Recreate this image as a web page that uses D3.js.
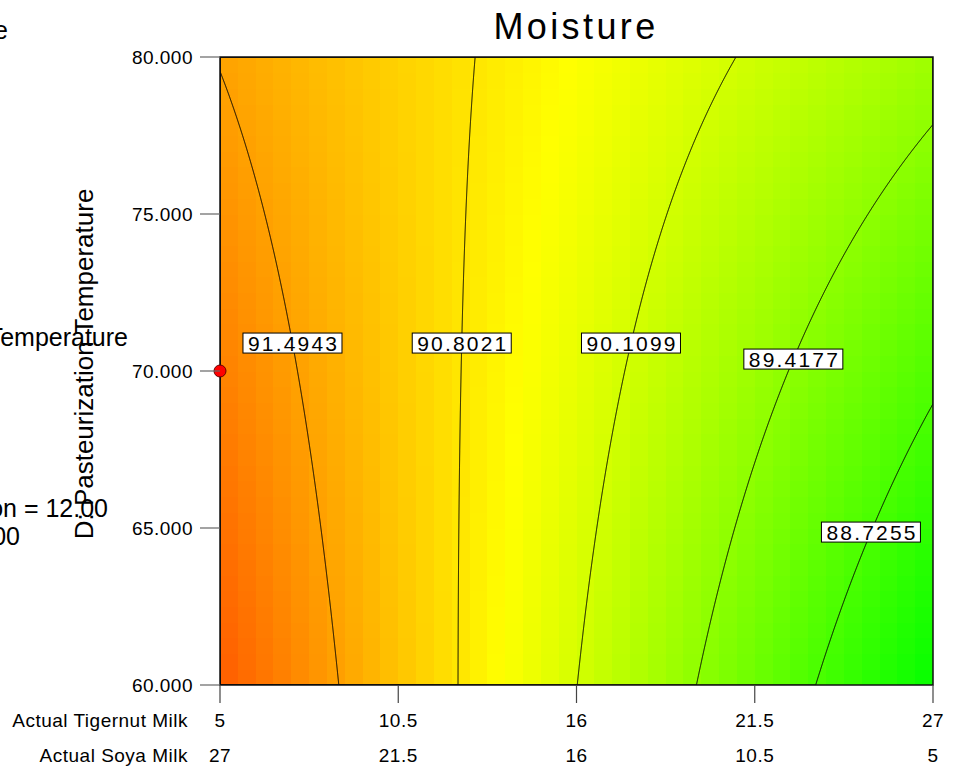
<!DOCTYPE html>
<html>
<head>
<meta charset="utf-8">
<script src="https://cdn.jsdelivr.net/npm/d3@7"></script>
<style>
  html, body { margin: 0; padding: 0; background: #fff; overflow: hidden; }
  svg { display: block; font-family: "Liberation Sans", Arial, sans-serif; }
</style>
</head>
<body>
<svg id="chart" width="956" height="767"></svg>
<script>
// ---- data ----
const tigernutTicks = [5, 10.5, 16, 21.5, 27];
const soyaTicks = [27, 21.5, 16, 10.5, 5];
const temperatureTicks = [60, 65, 70, 75, 80];
const contourLevels = [88.7255, 89.4177, 90.1099, 90.8021, 91.4943];
// fitted quadratic response surface for Moisture, coded factors
// a = (Tigernut - 16) / 11, d = (Temperature - 70) / 10
const modelTerms = ["Intercept", "A", "D", "AD", "A^2", "D^2"];
const modelCoefficients = [90.314, -1.508, 0.2095, 0.562, 0, 0.0096];
const designPointTigernut = [5];
const designPointTemperature = [70];
const legendLines = [
  "Design-Expert\u00ae Software",
  "X2 = D: Pasteurization Temperature",
  "C: Fermentation = 12.00",
  "B: Starter Culture = 2.00"
];

// ---- layout ----
const plot = { left: 220, right: 933, top: 57, bottom: 685 };
const svg = d3.select("#chart");

const x = d3.scaleLinear().domain([5, 27]).range([plot.left, plot.right]);
const y = d3.scaleLinear().domain([60, 80]).range([plot.bottom, plot.top]);

const coef = Object.fromEntries(modelTerms.map((t, i) => [t, modelCoefficients[i]]));
function moisture(A, D) {
  const a = (A - 16) / 11, d = (D - 70) / 10;
  return coef["Intercept"] + coef["A"] * a + coef["D"] * d + coef["AD"] * a * d +
         coef["A^2"] * a * a + coef["D^2"] * d * d;
}

// spectrum used for the response: green (low) -> yellow -> red (high)
const color = d3.scaleLinear()
  .domain([88.0, 90.55, 93.1])
  .range(["#00ff00", "#ffff00", "#ff0000"])
  .clamp(true);

svg.append("defs").append("clipPath").attr("id", "plot-clip")
  .append("rect")
  .attr("x", plot.left).attr("y", plot.top)
  .attr("width", plot.right - plot.left).attr("height", plot.bottom - plot.top);

// ---- colour field (cell grid) ----
const cols = 40, rows = 40;
const aStep = (x.domain()[1] - x.domain()[0]) / cols;
const dStep = (y.domain()[1] - y.domain()[0]) / rows;
const cells = [];
for (let j = 0; j < rows; j++) {
  for (let i = 0; i < cols; i++) {
    const A0 = x.domain()[0] + i * aStep;
    const D0 = y.domain()[0] + j * dStep;
    cells.push({ A0, D0, v: moisture(A0 + aStep / 2, D0 + dStep / 2) });
  }
}
svg.append("g").attr("clip-path", "url(#plot-clip)")
  .selectAll("rect").data(cells).join("rect")
  .attr("x", d => x(d.A0))
  .attr("y", d => y(d.D0 + dStep))
  .attr("width", d => x(d.A0 + aStep) - x(d.A0) + 0.5)
  .attr("height", d => y(d.D0) - y(d.D0 + dStep) + 0.5)
  .attr("fill", d => color(d.v))
  .attr("shape-rendering", "crispEdges");

// ---- contour lines ----
const n = plot.right - plot.left, m = plot.bottom - plot.top;
const values = new Float64Array(n * m);
for (let j = 0; j < m; j++) {
  const D = y.invert(plot.top + j + 0.5);
  for (let i = 0; i < n; i++) {
    values[j * n + i] = moisture(x.invert(plot.left + i + 0.5), D);
  }
}
const contours = d3.contours().size([n, m]).thresholds(contourLevels)(values);
const toPlot = d3.geoTransform({
  point(px, py) { this.stream.point(plot.left + px, plot.top + py); }
});
svg.append("g").attr("clip-path", "url(#plot-clip)")
  .selectAll("path").data(contours).join("path")
  .attr("d", d3.geoPath(toPlot))
  .attr("fill", "none")
  .attr("stroke", "#000")
  .attr("stroke-width", 1);

// ---- frame ----
svg.append("rect")
  .attr("x", plot.left).attr("y", plot.top)
  .attr("width", plot.right - plot.left).attr("height", plot.bottom - plot.top)
  .attr("fill", "none").attr("stroke", "#111").attr("stroke-width", 1.5);

// ---- contour labels ----
function crossing(level, D) {
  let lo = 5, hi = 27;
  const fLo = moisture(lo, D) - level;
  for (let k = 0; k < 60; k++) {
    const mid = (lo + hi) / 2;
    if ((moisture(mid, D) - level) * fLo > 0) lo = mid; else hi = mid;
  }
  return (lo + hi) / 2;
}
const labelAt = [64.87, 70.38, 70.89, 70.89, 70.89];
const labels = svg.append("g");
contourLevels.forEach((lv, i) => {
  const D = labelAt[i];
  const cx = x(crossing(lv, D)), cy = y(D);
  const g = labels.append("g").attr("transform", `translate(${cx},${cy})`);
  g.append("rect")
    .attr("x", -49.5).attr("y", -10)
    .attr("width", 99).attr("height", 20)
    .attr("fill", "#fff").attr("stroke", "#000").attr("stroke-width", 1);
  g.append("text")
    .attr("x", 1.1).attr("y", 7.6)
    .attr("text-anchor", "middle")
    .attr("font-size", 21)
    .attr("letter-spacing", 2.2)
    .text(lv.toFixed(4));
});

// ---- design point ----
svg.append("g").selectAll("circle")
  .data(designPointTigernut.map((t, i) => [t, designPointTemperature[i]]))
  .join("circle")
  .attr("cx", d => x(d[0])).attr("cy", d => y(d[1]))
  .attr("r", 6)
  .attr("fill", "#ff0000").attr("stroke", "#600").attr("stroke-width", 1);

// ---- y axis ----
const yAxis = svg.append("g");
yAxis.selectAll("line").data(temperatureTicks).join("line")
  .attr("x1", plot.left - 20).attr("x2", plot.left)
  .attr("y1", d => y(d)).attr("y2", d => y(d))
  .attr("stroke", "#666").attr("stroke-width", 1.2);
yAxis.selectAll("text").data(temperatureTicks).join("text")
  .attr("x", 193).attr("y", d => y(d) + 6.5)
  .attr("text-anchor", "end")
  .attr("font-size", 19).attr("letter-spacing", 0.5)
  .text(d => d3.format(".3f")(d));

// ---- x axis (two rows: tigernut and soya) ----
const xAxis = svg.append("g");
xAxis.selectAll("line").data(tigernutTicks).join("line")
  .attr("x1", d => x(d)).attr("x2", d => x(d))
  .attr("y1", plot.bottom).attr("y2", plot.bottom + 18)
  .attr("stroke", "#444").attr("stroke-width", 1.2);
xAxis.selectAll("text.t1").data(tigernutTicks).join("text")
  .attr("class", "t1")
  .attr("x", d => x(d)).attr("y", 727)
  .attr("text-anchor", "middle")
  .attr("font-size", 19).attr("letter-spacing", 0.5)
  .text(d => d);
xAxis.selectAll("text.t2").data(soyaTicks).join("text")
  .attr("class", "t2")
  .attr("x", (d, i) => x(tigernutTicks[i])).attr("y", 762)
  .attr("text-anchor", "middle")
  .attr("font-size", 19).attr("letter-spacing", 0.5)
  .text(d => d);
xAxis.append("text")
  .attr("x", 188).attr("y", 727).attr("text-anchor", "end")
  .attr("font-size", 19).attr("letter-spacing", 0.5)
  .text("Actual Tigernut Milk");
xAxis.append("text")
  .attr("x", 188).attr("y", 762).attr("text-anchor", "end")
  .attr("font-size", 19).attr("letter-spacing", 0.5)
  .text("Actual Soya Milk");

// ---- legend block at the left edge ----
const legendPos = [[8, 39], [128, 346], [108, 517], [20, 545]];
svg.append("g").selectAll("text").data(legendLines).join("text")
  .attr("x", (d, i) => legendPos[i][0]).attr("y", (d, i) => legendPos[i][1])
  .attr("text-anchor", "end")
  .attr("font-size", 25)
  .text(d => d);

// ---- y axis title ----
svg.append("text")
  .attr("transform", "translate(93,364) rotate(-90)")
  .attr("text-anchor", "middle")
  .attr("font-size", 26)
  .text("D: Pasteurization Temperature");

// ---- title ----
svg.append("text")
  .attr("x", 576).attr("y", 39)
  .attr("text-anchor", "middle")
  .attr("font-size", 36).attr("letter-spacing", 3.4)
  .text("Moisture");
</script>
</body>
</html>
